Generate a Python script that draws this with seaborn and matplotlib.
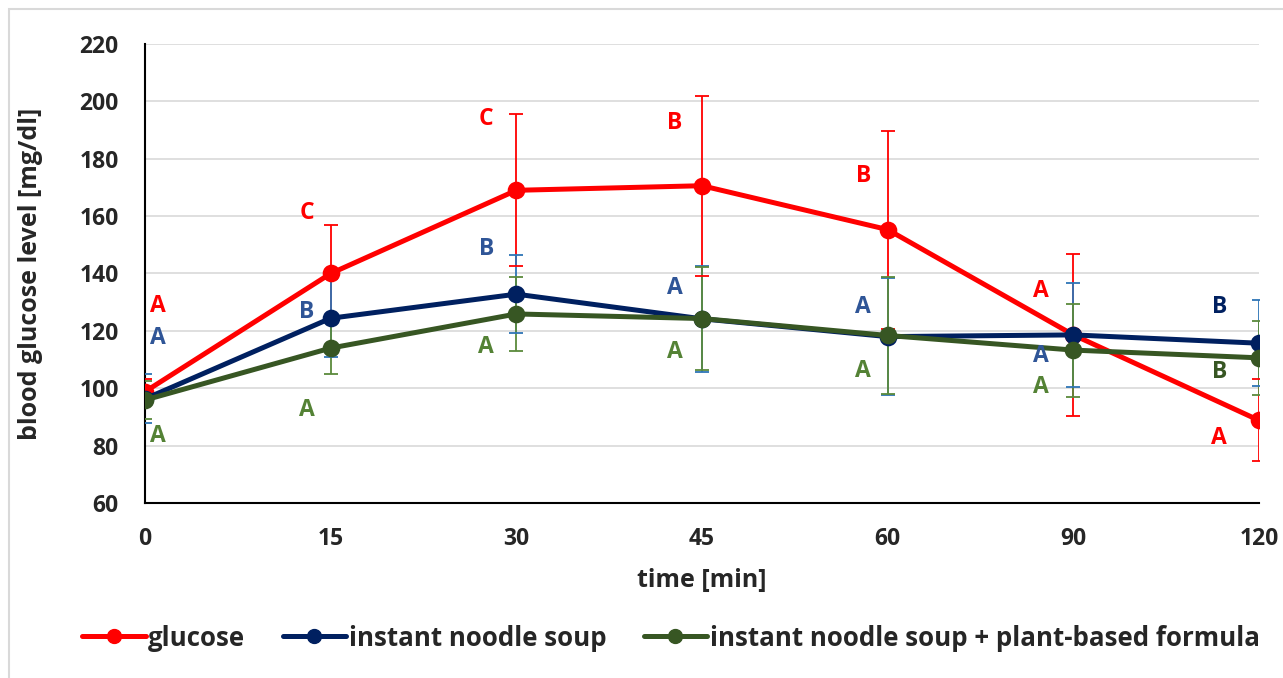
import numpy as np
import pandas as pd
import seaborn as sns
import matplotlib
matplotlib.use("Agg")
import matplotlib.pyplot as plt
from matplotlib.lines import Line2D
from matplotlib.patches import Rectangle

# ---- data -------------------------------------------------------------
times = ["0", "15", "30", "45", "60", "90", "120"]
series_names = ["glucose", "instant noodle soup",
                "instant noodle soup + plant-based formula"]

glucose_mean = [98.8, 140.0, 169.0, 170.6, 155.3, 118.6, 88.8]
glucose_sd = [4.5, 17.0, 26.5, 31.3, 34.5, 28.1, 14.3]
noodle_mean = [96.3, 124.4, 132.8, 124.2, 118.0, 118.6, 115.7]
noodle_sd = [8.5, 13.6, 13.5, 18.5, 20.5, 18.2, 15.0]
formula_mean = [95.9, 114.0, 125.9, 124.3, 118.4, 113.3, 110.6]
formula_sd = [6.5, 9.0, 13.0, 17.8, 20.5, 16.2, 12.8]

# significance letters and the height at which each is written
glucose_letters = ["A", "C", "C", "B", "B", "A", "A"]
noodle_letters = ["A", "B", "B", "A", "A", "A", "B"]
formula_letters = ["A", "A", "A", "A", "A", "A", "B"]
glucose_letter_y = [128.8, 161.0, 193.8, 192.4, 173.9, 133.8, 82.8]
noodle_letter_y = [117.6, 126.5, 148.4, 134.8, 128.2, 111.4, 128.2]
formula_letter_y = [83.4, 92.5, 114.3, 112.5, 105.9, 100.3, 105.5]

y_ticks = [60, 80, 100, 120, 140, 160, 180, 200, 220]

# ---- styling ----------------------------------------------------------
line_colors = ["#ff0000", "#002060", "#375623"]
err_colors = ["#ff0000", "#2e75b6", "#5b8a3c"]
glucose_letter_colors = ["#ff0000"] * 7
noodle_letter_colors = ["#2f5597"] * 6 + ["#002060"]
formula_letter_colors = ["#548235"] * 6 + ["#375623"]
letter_dx = [0.072, -0.127, -0.162, -0.148, -0.131, -0.174, -0.214]

sns.set_theme(style="white")
plt.rcParams["font.family"] = ["Open Sans", "DejaVu Sans"]
plt.rcParams["font.weight"] = "bold"

df = pd.DataFrame({
    "time": times * 3,
    "level": glucose_mean + noodle_mean + formula_mean,
    "series": [s for s in series_names for _ in times],
})

fig = plt.figure(figsize=(12.83, 6.78), dpi=100)
ax = fig.add_axes([145 / 1283, 1 - 503 / 678, 1114 / 1283, 459 / 678])

means = [glucose_mean, noodle_mean, formula_mean]
sds = [glucose_sd, noodle_sd, formula_sd]
xpos = np.arange(len(times))

# error bars underneath the lines
for m, s, c in zip(means, sds, err_colors):
    ax.errorbar(xpos, m, yerr=s, fmt="none", ecolor=c, elinewidth=1.3,
                capsize=5, capthick=1.3, zorder=1.5)

sns.pointplot(data=df, x="time", y="level", hue="series", order=times,
              hue_order=series_names, palette=line_colors, markers="o",
              linestyles="-", errorbar=None, dodge=False, ax=ax,
              linewidth=3.6, markersize=10, legend=False)
for ln in ax.lines:
    ln.set_zorder(3)

# significance letters
for letters, ly, cols in [(glucose_letters, glucose_letter_y, glucose_letter_colors),
                          (noodle_letters, noodle_letter_y, noodle_letter_colors),
                          (formula_letters, formula_letter_y, formula_letter_colors)]:
    for i, (t, y, c) in enumerate(zip(letters, ly, cols)):
        ax.text(xpos[i] + letter_dx[i], y, t, color=c, fontsize=16.5,
                fontweight="bold", ha="center", va="center", zorder=4)

ax.set_xlim(0, len(times) - 1)
ax.set_ylim(60, 220)
ax.set_yticks(y_ticks)
ax.set_xticks(xpos)
ax.set_xticklabels(times)
ax.yaxis.grid(True, color="#d9d9d9", linewidth=1.2, zorder=0)
ax.set_axisbelow(True)
for side in ["top", "right"]:
    ax.spines[side].set_visible(False)
for side in ["left", "bottom"]:
    ax.spines[side].set_color("black")
    ax.spines[side].set_linewidth(1.5)
ax.tick_params(axis="both", length=0, labelsize=16.5)
ax.tick_params(axis="y", pad=19)
ax.tick_params(axis="x", pad=17)
for lab in ax.get_xticklabels() + ax.get_yticklabels():
    lab.set_fontweight("bold")

ax.set_ylabel("blood glucose level [mg/dl]", fontsize=18, fontweight="bold",
              va="center")
ax.yaxis.set_label_coords(-0.103, 0.5)
ax.set_xlabel("time [min]", fontsize=18, fontweight="bold", va="center")
ax.xaxis.set_label_coords(0.5, -0.168)

handles = [Line2D([0], [0], color=c, lw=3.6, marker="o", markersize=10)
           for c in line_colors]
fig.legend(handles, series_names, loc="center", ncol=3,
           bbox_to_anchor=(0.523, 1 - 638 / 678), frameon=False,
           prop={"size": 18.6, "weight": "bold"}, handlelength=2.45,
           handletextpad=0.1, columnspacing=1.45)

# chart frame
fig.patches.append(Rectangle((9 / 1283, -0.1), 1.2, 1 - 9 / 678 + 0.1,
                             transform=fig.transFigure, fill=False,
                             edgecolor="#d9d9d9", linewidth=1.5))

fig.savefig("out.png", dpi=100)
